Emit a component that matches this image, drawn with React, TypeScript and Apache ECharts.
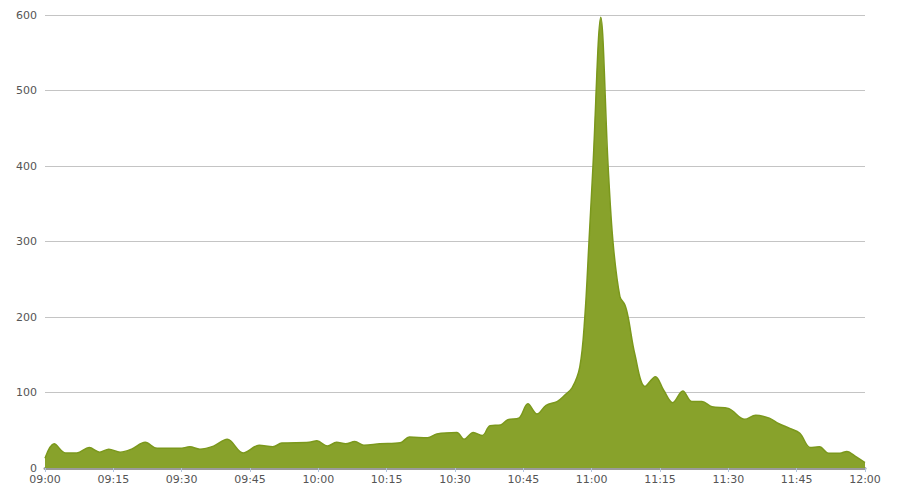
import React, { useEffect, useRef } from "react";
import * as echarts from "echarts";

// minutes after 09:00
const minutes = [
  0, 2, 4.5, 7, 9.7, 12, 14, 16.5, 19, 22, 24.6, 29.6, 31.8, 34, 37, 40, 43.5, 47, 50, 52,
  58, 59.7, 62, 64, 66, 68, 70, 73.5, 78, 80, 84, 86, 90.4, 92, 94, 96, 97.7, 100, 101.6, 104,
  106, 108, 110, 112.4, 114, 115.7, 117.4, 118.5, 119.4, 120.3, 122, 123.6, 124.7, 126.2, 127.3,
  128, 129.5, 131.7, 134, 135.8, 137.8, 140, 142, 144.2, 146.4, 150, 153.6, 156, 159, 161,
  163.5, 165.7, 168, 170, 172, 174.5, 176, 178, 180,
];
const values = [
  13, 32, 20, 20, 27, 21, 25, 21, 25, 34, 26, 26, 28, 25, 29, 38, 20, 30, 28, 33,
  34, 36, 29, 34, 32, 35, 30, 32, 33.5, 41, 40, 45, 47, 38, 47, 43, 56, 57, 64, 66,
  85, 71.5, 83, 88, 96, 106, 134, 200, 298, 401, 597, 401, 298, 227, 216,
  200, 150, 108, 121, 103, 86.5, 102, 88, 88, 81, 79, 64.5, 70, 66, 59,
  52.5, 46, 27, 28, 19.5, 19.5, 22, 15, 7,
];
const yTicks = [0, 100, 200, 300, 400, 500, 600];
const startHour = 9;

const fmtTime = (m: number) => {
  const h = startHour + Math.floor(m / 60);
  const mm = Math.round(m % 60);
  return `${String(h).padStart(2, "0")}:${String(mm).padStart(2, "0")}`;
};

export default function App() {
  const ref = useRef<HTMLDivElement>(null);
  useEffect(() => {
    if (!ref.current) return;
    const chart = echarts.init(ref.current, undefined, { renderer: "svg" });
    chart.setOption({
      animation: false,
      grid: { left: 45, right: 45, top: 15, bottom: 34, containLabel: false },
      xAxis: {
        type: "value",
        min: 0,
        max: 180,
        interval: 15,
        axisLine: { show: true, lineStyle: { color: "#9a9a9a", width: 3 } },
        axisTick: { show: true, length: 4, lineStyle: { color: "#b0c4de", width: 1 } },
        splitLine: { show: false },
        axisLabel: {
          color: "#555",
          fontSize: 11,
          fontFamily: "DejaVu Sans",
          margin: 6,
          formatter: (v: number) => fmtTime(v),
        },
      },
      yAxis: {
        type: "value",
        min: yTicks[0],
        max: yTicks[yTicks.length - 1],
        interval: 100,
        axisLine: { show: false },
        axisTick: { show: false },
        splitLine: { lineStyle: { color: "#c4c4c4", width: 1 } },
        axisLabel: { color: "#555", fontSize: 11, fontFamily: "DejaVu Sans", margin: 8 },
      },
      series: [
        {
          type: "line",
          smooth: 0.35,
          symbol: "none",
          data: minutes.map((m, i) => [m, values[i]]),
          lineStyle: { color: "#7b981c", width: 1.5 },
          areaStyle: { color: "#88a22b", opacity: 1 },
        },
      ],
    });
    return () => chart.dispose();
  }, []);
  return <div ref={ref} style={{ width: 910, height: 502, position: "absolute", left: 0, top: 0 }} />;
}
